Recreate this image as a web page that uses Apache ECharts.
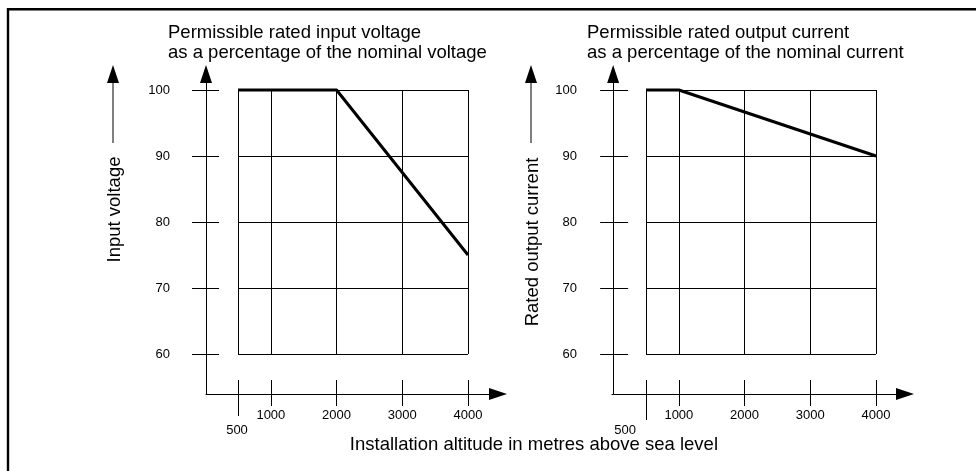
<!DOCTYPE html>
<html>
<head>
<meta charset="utf-8">
<style>html,body{margin:0;padding:0;background:#fff}#c{width:976px;height:471px}</style>
<script src="https://cdn.jsdelivr.net/npm/echarts@6/dist/echarts.min.js"></script>
</head>
<body>
<div id="c"></div>
<script>
// ---- data ----
const altitudeGrid = [500, 1000, 2000, 3000, 4000];
const altitudeLabels = [1000, 2000, 3000, 4000];
const altitudeFirst = [500];
const percentTicks = [60, 70, 80, 90, 100];
const voltageAltitude = [500, 2000, 4000];
const voltageValues = [100, 100, 75];
const currentAltitude = [500, 1000, 4000];
const currentValues = [100, 100, 90];
const titleVoltage = 'Permissible rated input voltage\nas a percentage of the nominal voltage';
const titleCurrent = 'Permissible rated output current\nas a percentage of the nominal current';
const nameVoltage = 'Input voltage';
const nameCurrent = 'Rated output current';
const nameAltitude = 'Installation altitude in metres above sea level';

// ---- layout ----
const FONT = 'Liberation Sans, Arial, sans-serif';
const BLACK = '#000';
const PX_PER_ALT = 230 / 3500;
const PX_PER_PCT = 6.6;
const ARROW_HALF = 9;
const panels = [
  {gl: 206, gr: 507 - ARROW_HALF, x500: 238, x4000: 468,
   yTickOut: 14, yTickIn: 13, yMargin: 36, t500: 22, a500: 'center', pad500: [0, 2, 0, 0],
   xs: voltageAltitude, ys: voltageValues},
  {gl: 612, gr: 914 - ARROW_HALF, x500: 646, x4000: 876,
   yTickOut: 13, yTickIn: 15, yMargin: 35, t500: 26, a500: 'right', pad500: [0, 10, 0, 0],
   xs: currentAltitude, ys: currentValues}
];
const G_TOP = 65 + ARROW_HALF, G_BOTTOM = 394, Y100 = 90, Y60 = 354;
const yMin = 60 - (G_BOTTOM - Y60) / PX_PER_PCT, yMax = 100 + (Y100 - G_TOP) / PX_PER_PCT;

const grids = [], xAxes = [], yAxes = [], series = [];
const lineStyle = {color: BLACK, width: 1};
const labelBase = {color: BLACK, fontSize: 13, fontFamily: FONT, formatter: v => String(Math.round(v))};
const axisArrow = {show: true, symbol: ['none', 'triangle'], symbolSize: [12, 18], lineStyle};

panels.forEach((p, gi) => {
  grids.push({left: p.gl, top: G_TOP, width: p.gr - p.gl, height: G_BOTTOM - G_TOP});
  const xMin = 500 - (p.x500 - p.gl) / PX_PER_ALT, xMax = 4000 + (p.gr - p.x4000) / PX_PER_ALT;
  const cx = {type: 'value', gridIndex: gi, min: xMin, max: xMax, position: 'bottom', splitLine: {show: false}};
  xAxes.push(Object.assign({}, cx, {
    axisLine: axisArrow,
    axisTick: {show: true, customValues: altitudeLabels, length: 12, inside: false, lineStyle},
    axisLabel: Object.assign({show: true, customValues: altitudeLabels, margin: 15}, labelBase)
  }));
  xAxes.push(Object.assign({}, cx, {
    axisLine: {show: false},
    axisTick: {show: true, customValues: altitudeGrid, length: 14, inside: true, lineStyle},
    axisLabel: {show: false}
  }));
  xAxes.push(Object.assign({}, cx, {
    axisLine: {show: false},
    axisTick: {show: true, customValues: altitudeFirst, length: p.t500, inside: false, lineStyle},
    axisLabel: Object.assign({show: true, customValues: altitudeFirst, margin: 30, align: p.a500, padding: p.pad500}, labelBase)
  }));
  const cy = {type: 'value', gridIndex: gi, min: yMin, max: yMax, position: 'left', splitLine: {show: false}};
  yAxes.push(Object.assign({}, cy, {
    axisLine: axisArrow,
    axisTick: {show: true, customValues: percentTicks, length: p.yTickOut, inside: false, lineStyle},
    axisLabel: Object.assign({show: true, customValues: percentTicks, margin: p.yMargin, padding: [0, 0, 6, 0]}, labelBase)
  }));
  yAxes.push(Object.assign({}, cy, {
    axisLine: {show: false},
    axisTick: {show: true, customValues: percentTicks, length: p.yTickIn, inside: true, lineStyle},
    axisLabel: {show: false}
  }));
  const pMin = percentTicks[0], pMax = percentTicks[percentTicks.length - 1];
  const aMin = altitudeGrid[0], aMax = altitudeGrid[altitudeGrid.length - 1];
  const ml = [];
  altitudeGrid.forEach(a => ml.push([{coord: [a, pMin]}, {coord: [a, pMax]}]));
  percentTicks.forEach(v => ml.push([{coord: [aMin, v]}, {coord: [aMax, v]}]));
  series.push({
    type: 'line', xAxisIndex: gi * 3, yAxisIndex: gi * 2,
    data: p.xs.map((x, i) => [x, p.ys[i]]),
    symbol: 'none', lineStyle: {color: BLACK, width: 3}, z: 5,
    markLine: {silent: true, symbol: 'none', label: {show: false}, lineStyle: {color: BLACK, width: 1, type: 'solid'}, data: ml, z: 3, animation: false}
  });
});

const titleStyle = {fontSize: 18.5, fontWeight: 'normal', color: BLACK, fontFamily: FONT, lineHeight: 20};
function arrowUp(x, yTip, yEnd) {
  return [
    {type: 'line', shape: {x1: x, y1: yTip + 17, x2: x, y2: yEnd}, style: {stroke: BLACK, lineWidth: 1}},
    {type: 'polygon', shape: {points: [[x, yTip], [x - 6, yTip + 18], [x + 6, yTip + 18]]}, style: {fill: BLACK}}
  ];
}

const chart = echarts.init(document.getElementById('c'), null, {renderer: 'canvas'});
chart.setOption({
  animation: false,
  backgroundColor: '#fff',
  title: [
    {text: titleVoltage, left: 168, top: 23, padding: 0, textStyle: titleStyle},
    {text: titleCurrent, left: 587, top: 23, padding: 0, textStyle: titleStyle},
    {text: nameAltitude, right: 258, top: 435, padding: 0, textStyle: titleStyle}
  ],
  grid: grids, xAxis: xAxes, yAxis: yAxes, series: series,
  graphic: [
    {type: 'rect', shape: {x: 8, y: 9.2, width: 1200, height: 700}, style: {fill: 'none', stroke: BLACK, lineWidth: 2.4}, silent: true},
    {type: 'text', x: 115, y: 209.5, rotation: Math.PI / 2, style: {text: nameVoltage, fill: BLACK, font: '18.5px ' + FONT, align: 'center', verticalAlign: 'middle'}},
    {type: 'text', x: 533, y: 242, rotation: Math.PI / 2, style: {text: nameCurrent, fill: BLACK, font: '18.5px ' + FONT, align: 'center', verticalAlign: 'middle'}}
  ].concat(arrowUp(113, 65, 143), arrowUp(531, 65, 143))
});
</script>
</body>
</html>
